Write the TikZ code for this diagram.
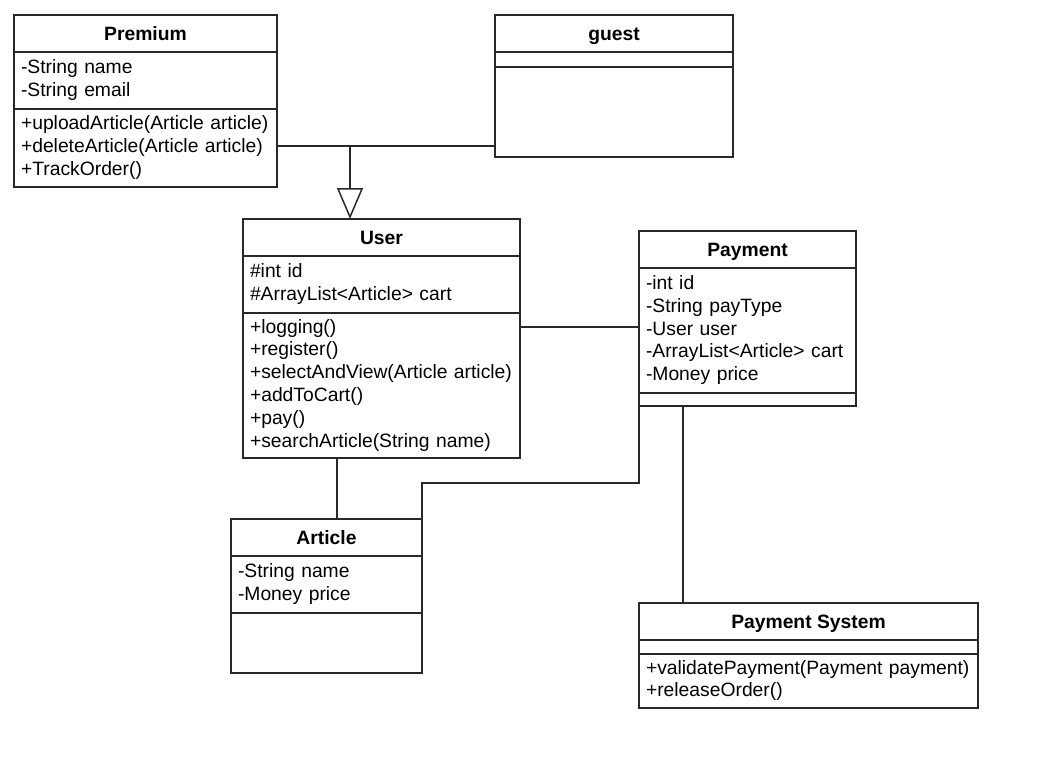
\documentclass[tikz,border=0pt]{standalone}
\usepackage{fontspec}
\setmainfont{Liberation Sans}
\usepackage{xcolor}
\usepackage{tikz}
\definecolor{umlline}{RGB}{40, 40, 40}
\usetikzlibrary{arrows.meta,positioning}

\begin{document}
\begin{tikzpicture}[x=1pt, y=-1pt, line width=1.5pt,
    umlfont/.style={font=\fontsize{19.3}{22.8}\selectfont},
    classhead/.style={draw=umlline, fill=white, outer sep=0pt, inner sep=0pt, anchor=north,
        minimum height=37pt, text height=14pt, text depth=0pt, font=\fontsize{19.3}{22.8}\selectfont\bfseries},
    classpart/.style={draw=umlline, fill=white, outer sep=0pt, inner xsep=7pt, inner ysep=0pt,
        align=left, umlfont, execute at begin node={\hyphenpenalty=10000 \strut}, execute at end node=\strut},
    classgap/.style={draw=umlline, fill=white, outer sep=0pt, inner sep=0pt},
    link/.style={draw=umlline},
    inherit/.style={-{Triangle[open, length=31pt, width=26pt]}}]
    \useasboundingbox (0,0) rectangle (1038,771);

    % Premium and guest
    \node[classhead, minimum width=263pt] (premh) at (145.5,15) {Premium};
    \node[classpart, text width=249pt, minimum height=57pt, below=0pt of premh] (prema) {-String name\\-String email};
    \node[classpart, text width=249pt, minimum height=78pt, below=0pt of prema] (premm) {+uploadArticle(Article article)\\+deleteArticle(Article article)\\+TrackOrder()};

    \node[classhead, minimum width=238pt] (guesth) at (614,15) {guest};
    \node[classgap, minimum width=238pt, minimum height=15pt, below=0pt of guesth] (guesta) {};
    \node[classgap, minimum width=238pt, minimum height=90pt, below=0pt of guesta] (guestm) {};

    % User and Payment
    \node[classhead, minimum width=277pt] (userh) at (381.5,219) {User};
    \node[classpart, text width=263pt, minimum height=57pt, below=0pt of userh] (usera) {\#int id\\\#ArrayList<Article> cart};
    \node[classpart, text width=263pt, minimum height=145pt, below=0pt of usera] (userm) {+logging()\\+register()\\+selectAndView(Article article)\\+addToCart()\\+pay()\\+searchArticle(String name)};

    \node[classhead, minimum width=217pt] (payh) at (747.5,231) {Payment};
    \node[classpart, text width=203pt, minimum height=125pt, below=0pt of payh] (paya) {-int id\\-String payType\\-User user\\-ArrayList<Article> cart\\-Money price};
    \node[classgap, minimum width=217pt, minimum height=13pt, below=0pt of paya] (paym) {};

    % Article and Payment System
    \node[classhead, minimum width=191pt] (arth) at (326.5,519) {Article};
    \node[classpart, text width=177pt, minimum height=57pt, below=0pt of arth] (arta) {-String name\\-Money price};
    \node[classgap, minimum width=191pt, minimum height=60pt, below=0pt of arta] (artm) {};

    \node[classhead, minimum width=339pt] (psh) at (808.5,603) {Payment System};
    \node[classgap, minimum width=339pt, minimum height=14pt, below=0pt of psh] (psa) {};
    \node[classpart, text width=325pt, minimum height=54pt, below=0pt of psa] (psm) {+validatePayment(Payment payment)\\+releaseOrder()};

    % Connectors
    \coordinate (inh) at (350,146);
    \draw[link] (premm.east |- inh) -- (guestm.west |- inh);
    \draw[link, inherit] (inh) -- (inh |- userh.north);
    \draw[link] (userm.east |- 0,327) -- (paya.west |- 0,327);
    \draw[link] ([xshift=10.5pt]arth.north) -- ([xshift=10.5pt]arth.north |- userm.south);
    \draw[link] (paym.south west) -- ++(0,77) -| (arth.north east);
    \draw[link] ([xshift=44pt]paym.south west) -- ([xshift=44pt]paym.south west |- psh.north);
\end{tikzpicture}
\end{document}
